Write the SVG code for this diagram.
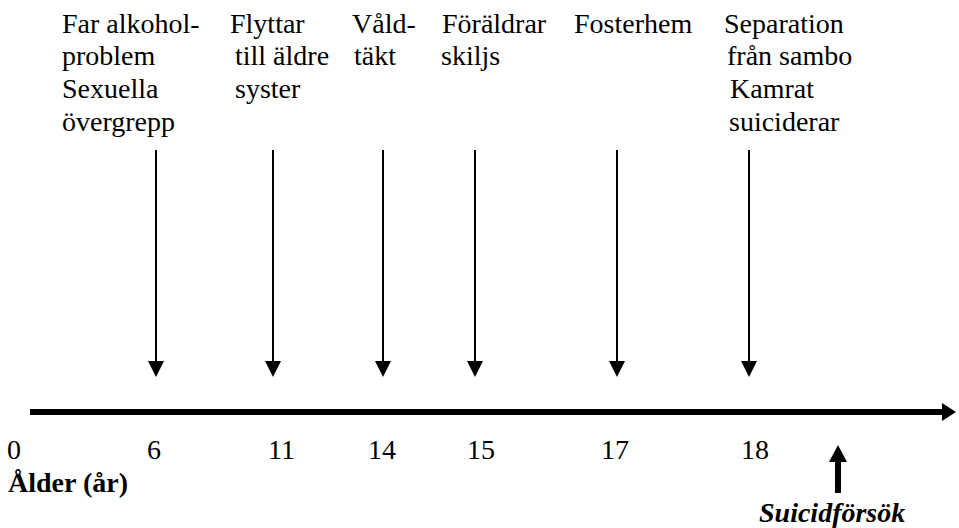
<svg xmlns="http://www.w3.org/2000/svg" width="959" height="528" viewBox="0 0 959 528">
  <defs>
    <!-- shared down-pointing arrowhead for the event connectors -->
    <path id="down-head" d="M-8,-16 L8,-16 L0,0 Z" fill="#000"/>
  </defs>

  <rect width="959" height="528" fill="#fff"/>

  <!-- event labels -->
  <g id="event-6" font-family="Liberation Serif" font-size="28" fill="#000">
    <text x="62" y="33">Far alkohol-</text>
    <text x="62" y="65">problem</text>
    <text x="62" y="98">Sexuella</text>
    <text x="62" y="131">övergrepp</text>
  </g>
  <g id="event-11" font-family="Liberation Serif" font-size="28" fill="#000">
    <text x="230" y="33">Flyttar</text>
    <text x="235" y="65">till äldre</text>
    <text x="235" y="98">syster</text>
  </g>
  <g id="event-14" font-family="Liberation Serif" font-size="28" fill="#000">
    <text x="352" y="33">Våld-</text>
    <text x="354" y="65">täkt</text>
  </g>
  <g id="event-15" font-family="Liberation Serif" font-size="28" fill="#000">
    <text x="442" y="33">Föräldrar</text>
    <text x="441" y="65">skiljs</text>
  </g>
  <g id="event-17" font-family="Liberation Serif" font-size="28" fill="#000">
    <text x="574" y="33">Fosterhem</text>
  </g>
  <g id="event-18" font-family="Liberation Serif" font-size="28" fill="#000">
    <text x="724" y="33">Separation</text>
    <text x="727" y="65">från sambo</text>
    <text x="730" y="98">Kamrat</text>
    <text x="729" y="131">suiciderar</text>
  </g>

  <!-- age axis -->
  <g id="axis" font-family="Liberation Serif" font-size="28" fill="#000">
    <line x1="30" y1="412" x2="944" y2="412" stroke="#000" stroke-width="6"/>
    <path d="M942,403 L956,412 L942,421 Z"/>
    <text x="7" y="459">0</text>
    <text x="147" y="459">6</text>
    <text x="268" y="459">11</text>
    <text x="368" y="459">14</text>
    <text x="467" y="459">15</text>
    <text x="601" y="459">17</text>
    <text x="741" y="459">18</text>
    <text x="8" y="492" font-weight="bold">Ålder (år)</text>
  </g>

  <!-- suicide attempt marker -->
  <g id="attempt" font-family="Liberation Serif" font-size="28" fill="#000">
    <line x1="838" y1="460" x2="838" y2="493" stroke="#000" stroke-width="6"/>
    <path d="M829,462 L838,445 L847,462 Z"/>
    <text x="759" y="522" font-weight="bold" font-style="italic">Suicidförsök</text>
  </g>

  <!-- connectors from events down to the axis -->
  <g id="connectors" stroke="#000" stroke-width="2">
    <line x1="156" y1="150" x2="156" y2="365"/>
    <line x1="273" y1="150" x2="273" y2="365"/>
    <line x1="383" y1="150" x2="383" y2="365"/>
    <line x1="475" y1="150" x2="475" y2="365"/>
    <line x1="617" y1="150" x2="617" y2="365"/>
    <line x1="749" y1="150" x2="749" y2="365"/>
    <use href="#down-head" x="156" y="377" stroke="none"/>
    <use href="#down-head" x="273" y="377" stroke="none"/>
    <use href="#down-head" x="383" y="377" stroke="none"/>
    <use href="#down-head" x="475" y="377" stroke="none"/>
    <use href="#down-head" x="617" y="377" stroke="none"/>
    <use href="#down-head" x="749" y="377" stroke="none"/>
  </g>
</svg>
